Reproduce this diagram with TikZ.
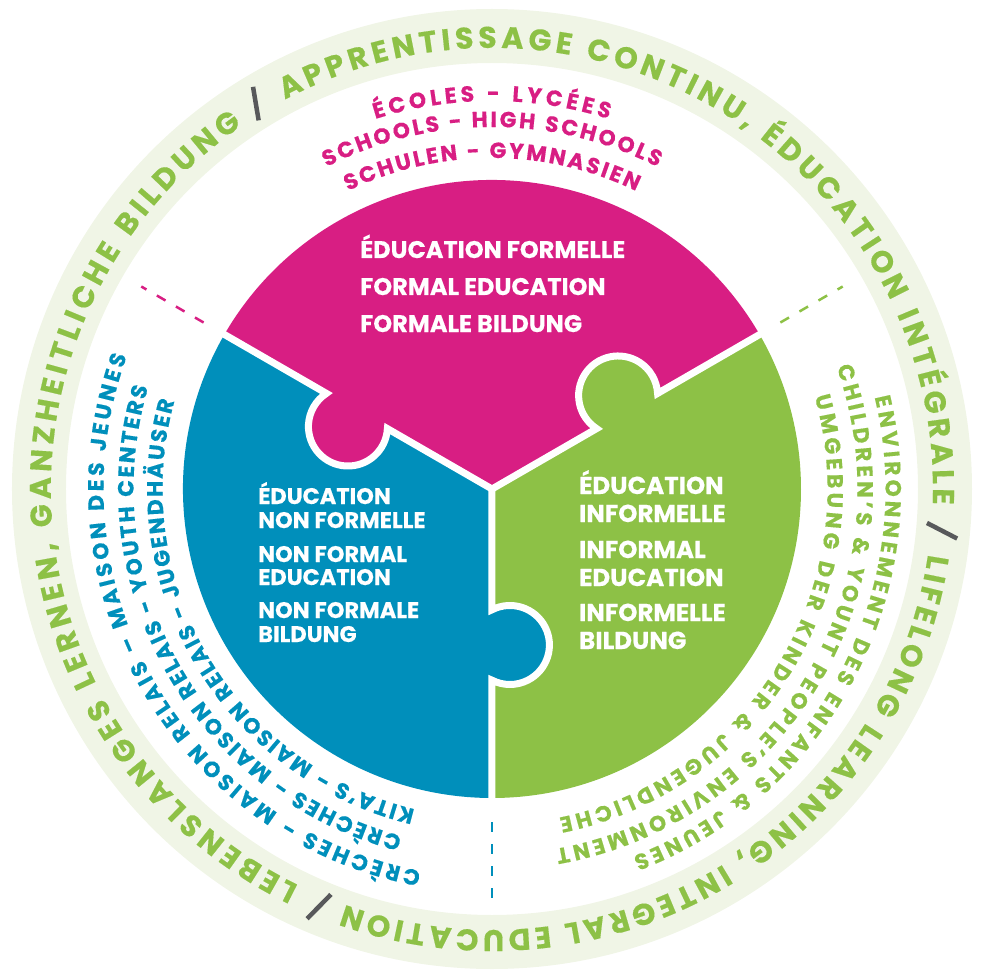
\documentclass[tikz,border=0pt]{standalone}
\usepackage{fontspec}
\usepackage{xcolor}
\usepackage{tikz}
\usetikzlibrary{calc,decorations.text}

\newfontfamily\pop{Poppins}[BoldFeatures={FakeBold=0.4}]

\definecolor{formalpink}{RGB}{216,30,131}
\definecolor{nonformalblue}{RGB}{0,143,187}
\definecolor{informalgreen}{RGB}{141,193,70}
\definecolor{ringgreen}{RGB}{240,245,230}
\definecolor{slashgrey}{RGB}{88,89,91}

\newcommand{\ringfont}{\pop\bfseries\fontsize{30}{30}\selectfont\color{informalgreen}}
\newcommand{\arcfont}{\pop\bfseries\fontsize{22}{22}\selectfont}

% text on a clockwise arc: radius, start, end, format, text
\newcommand{\arctext}[5]{%
  \path[decorate, decoration={text along path, text align={fit to path}, text={|#4|#5}}]
    (#2:#1) arc[start angle=#2, end angle=#3, radius=#1];}

\tikzset{
  pieceText/.style={text=white, inner sep=0pt, anchor=base west,
    font=\pop\bfseries\fontsize{22}{22}\selectfont},
  seam/.style={white, line width=7pt},
  guide/.style={line width=2.5pt, dash pattern=on 10pt off 12pt},
  slashbar/.style={slashgrey, line width=4.5pt},
}

\begin{document}
\begin{tikzpicture}
  \useasboundingbox (-492pt,-486pt) rectangle (491pt,489pt);

  % outer ring
  \fill[ringgreen, even odd rule] (0,0) circle[radius=480pt] (0,0) circle[radius=426pt];
  \arctext{441pt}{118}{-2}{\ringfont}{APPRENTISSAGE CONTINU{,} ÉDUCATION INTÉGRALE}
  \arctext{441pt}{-8.5}{-109.5}{\ringfont}{LIFELONG LEARNING{,} INTEGRAL EDUCATION}
  \arctext{441pt}{244}{124.5}{\ringfont}{LEBENSLANGES LERNEN{,} GANZHEITLICHE BILDUNG}
  \foreach \a in {121.5,-5.3,247.5}
    \draw[slashbar] (\a:452pt) ++(\a+158:17pt) -- ++(\a-22:34pt);

  % puzzle pieces
  \fill[formalpink] (0,0) -- (30:309pt) arc[start angle=30, end angle=150, radius=309pt] -- cycle;
  \fill[nonformalblue] (0,0) -- (150:309pt) arc[start angle=150, end angle=270, radius=309pt] -- cycle;
  \fill[informalgreen] (0,0) -- (270:309pt) arc[start angle=270, end angle=390, radius=309pt] -- cycle;
  % knobs sit on the counter-clockwise seam of each piece
  \fill[formalpink] ($(150:156pt)+(240:17.9pt)$) circle[radius=39.5pt];
  \fill[nonformalblue] ($(270:156pt)+(360:17.9pt)$) circle[radius=39.5pt];
  \fill[informalgreen] ($(30:156pt)+(120:17.9pt)$) circle[radius=39.5pt];
  \foreach \a in {30,150,270}
    \draw[seam] (0,0) -- (\a:120.8pt) arc[start angle=\a+207, end angle=\a-27, radius=39.5pt] -- (\a:315pt);

  % dashed guides
  \draw[guide, formalpink] (150:333pt) -- (150:405pt);
  \draw[guide, informalgreen] (30:333pt) -- (30:405pt);
  \draw[guide, nonformalblue] (270:333pt) -- (270:414pt);

  % places around the pieces
  \arctext{388pt}{107.5}{72.5}{\arcfont\color{formalpink}}{ÉCOLES - LYCÉES}
  \arctext{362pt}{117.2}{62.8}{\arcfont\color{formalpink}}{SCHOOLS - HIGH SCHOOLS}
  \arctext{331pt}{115.8}{64.2}{\arcfont\color{formalpink}}{SCHULEN - GYMNASIEN}
  \arctext{388.5pt}{259.5}{160}{\arcfont\color{nonformalblue}}{CRÈCHES - MAISON RELAIS – MAISON DES JEUNES}
  \arctext{358.5pt}{255.5}{163.5}{\arcfont\color{nonformalblue}}{CRÈCHES - MAISON RELAIS - YOUTH CENTERS}
  \arctext{329.5pt}{256.5}{164.5}{\arcfont\color{nonformalblue}}{KITA’S - MAISON RELAIS - JUGENDHÄUSER}
  \arctext{393.5pt}{13.5}{-69}{\arcfont\color{informalgreen}}{ENVIRONNEMENT DES ENFANTS {\&} JEUNES}
  \arctext{365.5pt}{19.5}{-80}{\arcfont\color{informalgreen}}{CHILDREN’S {\&} YOUNT PEOPLE’S ENVIRONMENT}
  \arctext{335.5pt}{16}{-78.5}{\arcfont\color{informalgreen}}{UMGEBUNG DER KINDER {\&} JUGENDLICHE}

  % labels in the pieces
  \foreach \y/\t [count=\i] in {231/ÉDUCATION FORMELLE, 194/FORMAL EDUCATION, 157/FORMALE BILDUNG}
    \node[pieceText, font=\pop\bfseries\fontsize{24}{24}\selectfont] (formal\i) at (-132pt,\y pt) {\t};
  \foreach \y/\t [count=\i] in {-15/ÉDUCATION, -39/NON FORMELLE, -73/NON FORMAL, -96/EDUCATION, -129/NON FORMALE, -153/BILDUNG}
    \node[pieceText, font=\pop\bfseries\fontsize{22.5}{22.5}\selectfont] (nonformal\i) at (-234pt,\y pt) {\t};
  \foreach \y/\t [count=\i] in {-5/ÉDUCATION, -33/INFORMELLE, -69/INFORMAL, -97/EDUCATION, -132/INFORMELLE, -160/BILDUNG}
    \node[pieceText, font=\pop\bfseries\fontsize{24.5}{24.5}\selectfont] (informal\i) at (87pt,\y pt) {\t};
\end{tikzpicture}
\end{document}
